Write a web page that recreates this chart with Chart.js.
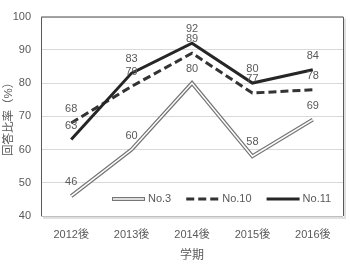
<!DOCTYPE html>
<html lang="ja">
<head>
<meta charset="utf-8">
<script src="https://cdn.jsdelivr.net/npm/chart.js@4.4.0/dist/chart.umd.min.js"></script>
<style>
  html, body { margin: 0; padding: 0; background: #fff; }
  #contenedor { width: 350px; height: 269px; }
</style>
</head>
<body>
<div id="contenedor"><canvas id="graficoRespuestas"></canvas></div>
<script>
// Datos
const periodos = ['2012後', '2013後', '2014後', '2015後', '2016後'];
const valoresNo3 = [46, 60, 80, 58, 69];
const valoresNo10 = [68, 79, 89, 77, 78];
const valoresNo11 = [63, 83, 92, 80, 84];
const minimoEjeY = 40;
const maximoEjeY = 100;
const pasoEjeY = 10;

const colorTexto = '#595959';
const fuente = '"Liberation Sans", "Noto Sans CJK JP", sans-serif';

// Marco del área de trazado con sombra (estilo Excel)
const marcoArea = {
    id: 'marcoArea',
    afterDraw(chart) {
        const { ctx, chartArea: a } = chart;
        ctx.save();
        // sombra
        ctx.strokeStyle = 'rgba(0,0,0,0.12)';
        ctx.lineWidth = 2;
        ctx.beginPath();
        ctx.moveTo(a.left + 2, a.bottom + 2);
        ctx.lineTo(a.right + 2, a.bottom + 2);
        ctx.lineTo(a.right + 2, a.top + 2);
        ctx.stroke();
        ctx.lineWidth = 1;
        ctx.strokeStyle = '#bfbfbf';
        ctx.beginPath();
        ctx.moveTo(a.left, a.bottom + 0.5);
        ctx.lineTo(a.right, a.bottom + 0.5);
        ctx.stroke();
        ctx.strokeStyle = '#595959';
        ctx.beginPath();
        ctx.moveTo(a.left + 0.5, a.bottom);
        ctx.lineTo(a.left + 0.5, a.top + 0.5);
        ctx.lineTo(a.right + 0.5, a.top + 0.5);
        ctx.lineTo(a.right + 0.5, a.bottom);
        ctx.stroke();
        ctx.restore();
    }
};

// Etiquetas de valor encima de cada punto
const etiquetasValores = {
    id: 'etiquetasValores',
    afterDatasetsDraw(chart) {
        const { ctx } = chart;
        ctx.save();
        ctx.font = '11px ' + fuente;
        ctx.fillStyle = colorTexto;
        ctx.textAlign = 'center';
        ctx.textBaseline = 'middle';
        chart.data.datasets.forEach((ds, i) => {
            if (ds.sinEtiquetas) return;
            const meta = chart.getDatasetMeta(i);
            meta.data.forEach((punto, j) => {
                ctx.fillText(String(ds.data[j]), punto.x, punto.y - 14);
            });
        });
        ctx.restore();
    }
};

// Leyenda dentro del área de trazado
const leyendaInterior = {
    id: 'leyendaInterior',
    afterDatasetsDraw(chart) {
        const { ctx, chartArea: a } = chart;
        const y = a.bottom - 17;
        const largoMuestra = 33;
        let x = a.left + 71;
        ctx.save();
        ctx.font = '11px ' + fuente;
        ctx.textBaseline = 'middle';
        chart.data.datasets.forEach(ds => {
            if (ds.sinLeyenda) return;
            ctx.save();
            ctx.strokeStyle = ds.borderColor;
            ctx.lineWidth = ds.borderWidth;
            ctx.setLineDash(ds.borderDash || []);
            ctx.beginPath();
            ctx.moveTo(x, y);
            ctx.lineTo(x + largoMuestra, y);
            ctx.stroke();
            if (ds.label === 'No.3') {
                ctx.strokeStyle = '#ffffff';
                ctx.lineWidth = 1.5;
                ctx.beginPath();
                ctx.moveTo(x + 1, y);
                ctx.lineTo(x + largoMuestra - 1, y);
                ctx.stroke();
            }
            ctx.restore();
            ctx.fillStyle = colorTexto;
            ctx.fillText(ds.label, x + largoMuestra + 3, y);
            x += largoMuestra + 3 + ctx.measureText(ds.label).width + 15;
        });
        ctx.restore();
    }
};

const ctxGrafico = document.getElementById('graficoRespuestas').getContext('2d');
const graficoRespuestas = new Chart(ctxGrafico, {
    type: 'line',
    data: {
        labels: periodos,
        datasets: [{
            label: 'No.3',
            data: valoresNo3,
            borderColor: '#767676',
            borderWidth: 4,
            borderJoinStyle: 'miter',
            order: 4
        }, {
            label: 'No.3 interior',
            data: valoresNo3,
            borderColor: '#ffffff',
            borderWidth: 1.5,
            borderJoinStyle: 'miter',
            sinEtiquetas: true,
            sinLeyenda: true,
            order: 3
        }, {
            label: 'No.10',
            data: valoresNo10,
            borderColor: '#333333',
            borderWidth: 3,
            borderDash: [8, 4],
            order: 2
        }, {
            label: 'No.11',
            data: valoresNo11,
            borderColor: '#262626',
            borderWidth: 3,
            order: 1
        }]
    },
    options: {
        responsive: true,
        maintainAspectRatio: false,
        animation: false,
        devicePixelRatio: 1,
        elements: {
            point: { radius: 0, hoverRadius: 0 },
            line: { tension: 0, fill: false }
        },
        layout: { padding: { top: 7, right: 7, left: 0, bottom: 0 } },
        scales: {
            x: {
                offset: true,
                grid: { display: false },
                border: { display: false },
                ticks: {
                    color: colorTexto,
                    font: { family: fuente, size: 11 },
                    padding: 4,
                    maxRotation: 0
                },
                title: {
                    display: true,
                    text: '学期',
                    color: colorTexto,
                    font: { family: fuente, size: 12 },
                    padding: { top: 0, bottom: 6 }
                },
                afterFit: escala => { escala.height = 53; }
            },
            y: {
                min: minimoEjeY,
                max: maximoEjeY,
                grid: { color: '#d9d9d9', drawTicks: false },
                border: { display: false },
                ticks: {
                    stepSize: pasoEjeY,
                    color: colorTexto,
                    font: { family: fuente, size: 11 },
                    padding: 10
                },
                title: {
                    display: true,
                    text: '回答比率（%）',
                    color: colorTexto,
                    font: { family: fuente, size: 11.5 },
                    padding: { top: 2, bottom: 0 }
                },
                afterFit: escala => { escala.width = 41; }
            }
        },
        plugins: {
            legend: { display: false },
            tooltip: { enabled: false }
        }
    },
    plugins: [marcoArea, etiquetasValores, leyendaInterior]
});
</script>
</body>
</html>
